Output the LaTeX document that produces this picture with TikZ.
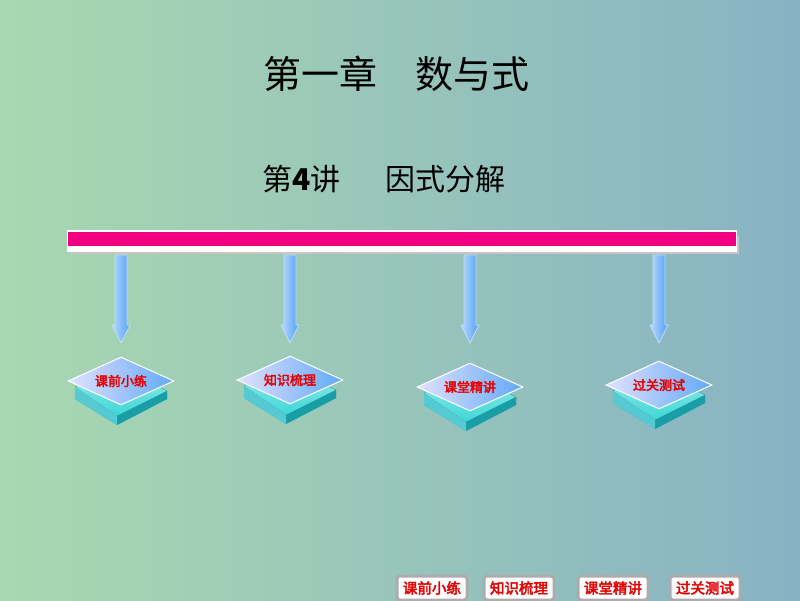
\documentclass[tikz,border=0pt]{standalone}
\usepackage{fontspec}
\newfontfamily\cjk{Noto Sans CJK SC}
\newfontfamily\cjkbold{Noto Sans CJK SC}[FakeBold=3]
\setmainfont{Liberation Sans}
\usetikzlibrary{shapes.geometric}
\definecolor{bgL}{RGB}{168,216,176}
\definecolor{bgR}{RGB}{136,178,196}
\definecolor{barpink}{RGB}{240,0,128}
\definecolor{arrblue}{RGB}{80,160,245}
\definecolor{slabc}{RGB}{60,215,215}
\definecolor{slabd}{RGB}{30,185,195}
\definecolor{txtred}{RGB}{230,0,0}
\tikzset{
  lbl/.style={font=\cjkbold\fontsize{13}{13}\selectfont, text=txtred},
  btn/.style={draw=gray!65, line width=3pt, fill=white, rounded corners=3pt, minimum width=70pt, minimum height=24pt, inner sep=0pt, font=\cjkbold\fontsize{14.5}{14.5}\selectfont, text=txtred},
  shaft/.style={left color=arrblue!40!white, right color=arrblue, draw=white!65!arrblue, line width=0.8pt},
  topdia/.style={diamond, draw=white, line width=1pt, left color=blue!12!white, right color=arrblue!90!white, minimum width=106pt, minimum height=48pt, inner sep=0pt}
}
\newcommand{\myplatform}[4]{% x, y, name, text
  \begin{scope}[shift={(#1,#2)}]
    \fill[slabd] (-46,6) -- (-4,-14) -- (46,10) -- (46,18) -- (-4,44) -- (-46,18) -- cycle;
    \fill[top color=slabc!50!white, bottom color=slabc] (-46,6) -- (-4,-14) -- (46,10) -- (-4,35) -- cycle;
    \fill[slabd!85!black] (46,10) -- (46,18) -- (-4,44) -- (-4,35) -- cycle;
    \fill[slabd!75!white] (-46,6) -- (-4,35) -- (-4,44) -- (-46,18) -- cycle;
    \node[topdia] (#3) at (0,0) {};
    \node[lbl] (#3t) at (#3) {#4};
  \end{scope}
}
\newcommand{\myarrow}[2]{% x, name
  \begin{scope}[shift={(#1,0)}]
    \path[shaft] (-6,255) -- (6,255) -- (6,325) -- (9,325) -- (0,343) -- (-9,325) -- (-6,325) -- cycle;
    \coordinate (#2) at (0,343);
  \end{scope}
}
\begin{document}
\begin{tikzpicture}[x=1pt,y=-1pt]
  \useasboundingbox (0,0) rectangle (800,600);
  \shade[left color=bgL, right color=bgR] (0,0) rectangle (800,600);
  % titles
  \node[font=\cjk\fontsize{38}{38}\selectfont] (title) at (396,74) {第一章\hspace{1em}数与式};
  \node[font=\cjk\fontsize{30}{30}\selectfont, anchor=west, inner sep=0pt] (sub) at (262,179) {第{\bfseries 4}讲\hspace{1.5em}因式分解};
  % bar
  \fill[gray!45] (69,236) rectangle (739,254);
  \fill[white] (67,230) rectangle (737,252);
  \node[fill=barpink, minimum width=668pt, minimum height=14pt, inner sep=0pt, anchor=north west] (bar) at (68,232) {};
  % arrows
  \myarrow{121}{a1}
  \myarrow{290}{a2}
  \myarrow{470}{a3}
  \myarrow{659}{a4}
  % platforms
  \myplatform{121}{381}{p1}{课前小练}
  \myplatform{290}{380}{p2}{知识梳理}
  \myplatform{470}{387}{p3}{课堂精讲}
  \myplatform{659}{385}{p4}{过关测试}
  % bottom buttons
  \node[btn] (b1) at (432,588) {课前小练};
  \node[btn] (b2) at (519,588) {知识梳理};
  \node[btn] (b3) at (613,588) {课堂精讲};
  \node[btn] (b4) at (705,588) {过关测试};
\end{tikzpicture}
\end{document}
